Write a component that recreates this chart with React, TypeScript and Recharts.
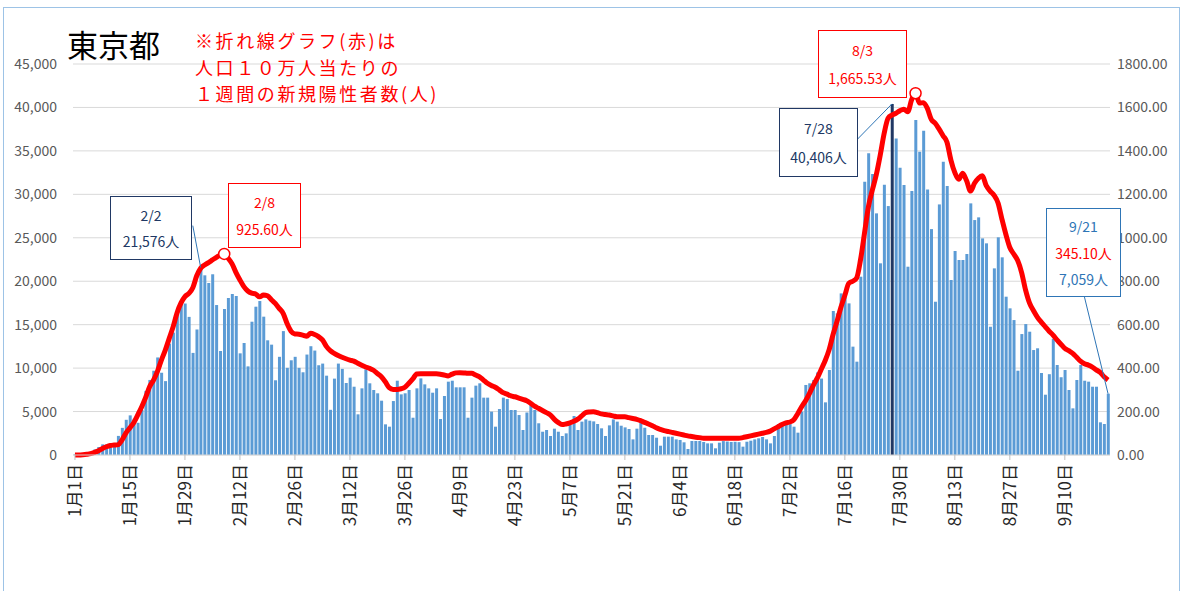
import React from 'react';
import { ComposedChart, Bar, Line, XAxis, YAxis, CartesianGrid, ReferenceDot, ReferenceLine, Cell } from 'recharts';

// days per month, 1/1 .. 9/21
const monthLengths = [31, 28, 31, 30, 31, 30, 31, 31, 21];
const dates: string[] = monthLengths.flatMap((n, m) =>
  Array.from({ length: n }, (_, d) => `${m + 1}月${d + 1}日`)
);

// daily new cases (left axis)
const casesJan = [79, 84, 103, 151, 390, 641, 922, 1224, 1223, 871, 962, 2198, 3124, 4051, 4561, 4172, 3709, 5185, 7377, 8638, 9699, 11227, 9468, 8503, 12813, 14086, 16538, 17631, 17433, 15895, 11751];
const casesFeb = [14445, 21576, 20679, 19798, 20800, 17260, 11970, 16800, 18070, 18530, 18300, 11700, 12890, 10200, 15340, 17070, 17720, 15920, 13200, 12700, 8600, 11300, 14260, 10030, 10900, 11300, 10030, 9520];
const casesMar = [11560, 12520, 12020, 10330, 10520, 9130, 5200, 8790, 10520, 9910, 8290, 8900, 7860, 4680, 7670, 9860, 8250, 7480, 7100, 6250, 3530, 3260, 6210, 8550, 6980, 7100, 7480, 4290, 7670, 8820, 8130];
const casesApr = [7670, 7170, 7670, 4140, 6790, 8440, 8550, 7790, 7790, 7790, 4290, 6600, 7980, 8250, 6600, 6600, 4990, 3260, 5290, 6600, 6440, 5180, 5180, 4600, 2880, 4890, 5870, 5180, 3650, 2680];
const casesMay = [2880, 2190, 3030, 2680, 2190, 2490, 3450, 4490, 2880, 3840, 4100, 3950, 3870, 3570, 3070, 2190, 3410, 4100, 3840, 3370, 3180, 2990, 1800, 3030, 3720, 3140, 2300, 2300, 1990, 1070, 2110];
const casesJun = [2110, 2110, 1800, 1730, 1460, 690, 1610, 1610, 1610, 1500, 1340, 1340, 770, 1420, 1600, 1550, 1500, 1520, 1480, 960, 1530, 1650, 1800, 1920, 2070, 1800, 1340, 2190, 3570, 3450];
const casesJul = [3500, 3550, 3260, 2570, 5000, 8060, 8250, 8630, 9500, 8800, 6060, 9780, 16570, 16300, 18600, 18680, 17450, 12470, 10740, 20520, 31450, 34720, 32340, 27810, 22060, 31100, 28650, 40406, 36440, 33060, 31070];
const casesAug = [21670, 30380, 38550, 34900, 37320, 30570, 26000, 17640, 28840, 33750, 30950, 20140, 23480, 22440, 22440, 23130, 28960, 27040, 27350, 24930, 24360, 14760, 21480, 25050, 22750, 18220, 16880, 15530, 9700, 13920, 15070];
const casesSep = [14190, 12080, 12280, 9440, 6940, 9300, 13370, 10360, 8950, 9780, 7480, 5370, 8630, 10360, 8550, 8440, 7860, 7860, 3760, 3570, 7059];

// weekly new cases per 100k (right axis)
const rateJan = [0, 0, 1, 3, 6, 12, 20, 30, 38, 44, 46, 48, 70, 102, 125, 150, 185, 222, 265, 314, 345, 385, 437, 483, 537, 591, 655, 700, 729, 744, 770];
const rateFeb = [825, 860, 875, 886, 898, 910, 921, 925.6, 906, 880, 840, 806, 775, 755, 745, 741, 728, 737, 733, 715, 698, 675, 652, 605, 570, 557, 556, 552];
const rateMar = [547, 560, 555, 545, 530, 500, 480, 468, 458, 450, 443, 437, 432, 422, 413, 405, 399, 390, 375, 360, 337, 310, 302, 302, 305, 312, 330, 350, 373, 374, 374];
const rateApr = [374, 374, 374, 372, 368, 364, 372, 378, 379, 378, 376, 376, 368, 360, 345, 330, 320, 312, 300, 287, 280, 272, 268, 262, 256, 250, 238, 225, 215, 205];
const rateMay = [195, 185, 165, 150, 140, 143, 148, 155, 165, 180, 195, 198, 199, 195, 189, 186, 184, 180, 176, 176, 176, 172, 168, 164, 158, 150, 143, 135, 125, 118, 112];
const rateJun = [108, 104, 100, 96, 92, 88, 85, 82, 80, 77, 77, 77, 77, 77, 77, 77, 77, 77, 77, 80, 84, 88, 92, 96, 100, 104, 110, 120, 130, 140];
const rateJul = [148, 152, 162, 190, 222, 250, 284, 322, 355, 395, 435, 485, 555, 615, 680, 735, 790, 800, 815, 900, 1021, 1143, 1220, 1290, 1380, 1480, 1550, 1565, 1573, 1585, 1592];
const rateAug = [1580, 1635, 1665.53, 1620, 1622, 1596, 1545, 1527, 1500, 1470, 1440, 1358, 1300, 1269, 1297, 1262, 1215, 1251, 1274, 1285, 1240, 1215, 1195, 1160, 1085, 1015, 955, 925, 895, 840, 760];
const rateSep = [700, 665, 635, 612, 591, 570, 552, 530, 510, 491, 480, 468, 450, 432, 420, 414, 405, 392, 380, 360, 345.1];

const leftTicks = [0, 5000, 10000, 15000, 20000, 25000, 30000, 35000, 40000, 45000];
const rightTicks = [0, 200, 400, 600, 800, 1000, 1200, 1400, 1600, 1800];

const cases = [...casesJan, ...casesFeb, ...casesMar, ...casesApr, ...casesMay, ...casesJun, ...casesJul, ...casesAug, ...casesSep];
const rates = [...rateJan, ...rateFeb, ...rateMar, ...rateApr, ...rateMay, ...rateJun, ...rateJul, ...rateAug, ...rateSep];
const data = dates.map((date, i) => ({ date, cases: cases[i], rate: rates[i] }));

const FONT = '"Noto Sans CJK JP", "Noto Sans", sans-serif';
const BLUE = '#5B9BD5';
const NAVY = '#203864';
const RED = '#FF0000';

const XTick = (props: any) => {
  const { x, y, payload } = props;
  const ty = y + 2;
  return (
    <text x={x} y={ty} transform={`rotate(-90, ${x}, ${ty})`} textAnchor="end" dy="0.35em"
      fontSize={17} fill="#262626" fontFamily={FONT}>
      {payload.value}
    </text>
  );
};

const Note = ({ left, top, width, height, border, lines }: any) => (
  <div style={{
    position: 'absolute', left, top, width, height, boxSizing: 'border-box',
    border: `1.5px solid ${border}`, background: '#fff',
    display: 'flex', flexDirection: 'column', justifyContent: 'space-evenly', alignItems: 'center',
    fontFamily: FONT, fontSize: 14,
  }}>
    {lines.map((l: any, k: number) => <div key={k} style={{ color: l.color, lineHeight: '18px' }}>{l.text}</div>)}
  </div>
);

const noteLines = ['※折れ線グラフ(赤)は', '人口１０万人当たりの', '１週間の新規陽性者数(人)'];

export default function App() {
  return (
    <div style={{ position: 'relative', width: 1183, height: 591, background: '#fff', fontFamily: FONT }}>
      <style>{'body{margin:0}'}</style>
      <ComposedChart width={1183} height={591} data={data} margin={{ top: 64, right: 0, bottom: 0, left: 0 }} barCategoryGap="18%">
        <CartesianGrid yAxisId="left" vertical={false} stroke="#d9d9d9" />
        <XAxis dataKey="date" interval={13} height={136} tick={<XTick />} tickSize={5}
          axisLine={{ stroke: '#d9d9d9' }} tickLine={{ stroke: '#bfbfbf' }} />
        <YAxis yAxisId="left" domain={[0, 45000]} ticks={leftTicks} width={73} axisLine={false} tickLine={false}
          tickMargin={10} tick={{ fontSize: 14, fill: '#595959', fontFamily: FONT }}
          tickFormatter={(v: number) => v.toLocaleString('en-US')} />
        <YAxis yAxisId="right" orientation="right" domain={[0, 1800]} ticks={rightTicks} width={73} axisLine={false}
          tickLine={false} tickMargin={1} tick={{ fontSize: 14, fill: '#595959', fontFamily: FONT, textAnchor: 'start' }}
          tickFormatter={(v: number) => v.toFixed(2)} />
        <Bar yAxisId="left" dataKey="cases" fill={BLUE} isAnimationActive={false}>
          {data.map((d) => <Cell key={d.date} fill={d.date === '7月28日' ? NAVY : BLUE} />)}
        </Bar>
        <Line yAxisId="right" type="monotone" dataKey="rate" stroke={RED} strokeWidth={5} dot={false}
          isAnimationActive={false} />
        <ReferenceLine yAxisId="left" segment={[{ x: '1月31日', y: 26400 }, { x: '2月2日', y: 21576 }]} stroke="#2E75B6" strokeWidth={1} />
        <ReferenceLine yAxisId="left" segment={[{ x: '7月19日', y: 36250 }, { x: '7月28日', y: 40406 }]} stroke="#2E75B6" strokeWidth={1} />
        <ReferenceLine yAxisId="left" segment={[{ x: '9月15日', y: 18180 }, { x: '9月21日', y: 7059 }]} stroke="#2E75B6" strokeWidth={1} />
        <ReferenceDot yAxisId="right" x="2月8日" y={925.6} r={5.5} fill="#fff" stroke={RED} strokeWidth={1.5} />
        <ReferenceDot yAxisId="right" x="8月3日" y={1665.53} r={5.5} fill="#fff" stroke={RED} strokeWidth={1.5} />
      </ComposedChart>

      <div style={{ position: 'absolute', left: 3, top: 7, width: 1177, height: 584, boxSizing: 'border-box',
        borderTop: '1px solid #9DC3E6', borderLeft: '1px solid #9DC3E6', borderRight: '1px solid #9DC3E6', pointerEvents: 'none' }} />

      <div style={{ position: 'absolute', left: 67, top: 25, fontSize: 31, color: '#000', lineHeight: '38px' }}>東京都</div>
      {noteLines.map((t, k) => (
        <div key={t} style={{ position: 'absolute', left: 195, top: 27 + k * 26.5, fontSize: 18, color: RED,
          lineHeight: '26px', letterSpacing: 2.6, whiteSpace: 'pre' }}>{t}</div>
      ))}

      <Note left={110} top={196} width={82} height={64} border={NAVY}
        lines={[{ text: '2/2', color: NAVY }, { text: '21,576人', color: NAVY }]} />
      <Note left={228} top={183} width={73} height={65} border={RED}
        lines={[{ text: '2/8', color: RED }, { text: '925.60人', color: RED }]} />
      <Note left={779} top={108} width={79} height={69} border={NAVY}
        lines={[{ text: '7/28', color: NAVY }, { text: '40,406人', color: NAVY }]} />
      <Note left={818} top={30} width={89} height={68} border={RED}
        lines={[{ text: '8/3', color: RED }, { text: '1,665.53人', color: RED }]} />
      <Note left={1046} top={208} width={75} height={89} border="#2E75B6"
        lines={[{ text: '9/21', color: '#2E75B6' }, { text: '345.10人', color: RED }, { text: '7,059人', color: '#2E75B6' }]} />
    </div>
  );
}
